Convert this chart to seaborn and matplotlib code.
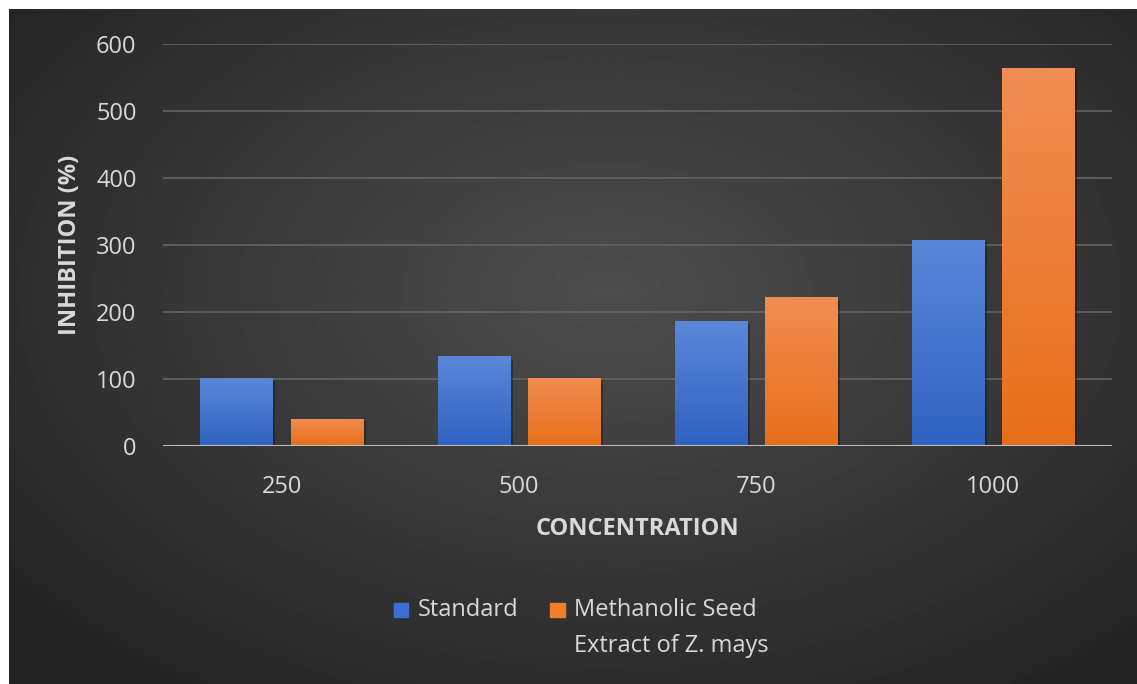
import numpy as np
import pandas as pd
import matplotlib.pyplot as plt
import matplotlib.patches as mpatches
import matplotlib.patheffects as pe
from matplotlib.colors import LinearSegmentedColormap
from matplotlib.legend_handler import HandlerPatch
import seaborn as sns

concentration = ['250', '500', '750', '1000']
standard = [101, 134, 186, 308]
methanolic = [41, 102, 222, 564]
series_names = ['Standard', 'Methanolic Seed\nExtract of Z. mays']
y_ticks = [0, 100, 200, 300, 400, 500, 600]

df = pd.DataFrame({
    'concentration': concentration * 2,
    'inhibition': standard + methanolic,
    'series': [series_names[0]] * len(standard) + [series_names[1]] * len(methanolic),
})

sns.set_theme(style='dark')
plt.rcParams['font.family'] = ['Open Sans', 'DejaVu Sans']

text_color = '#d9d9d9'
blue = '#4472c4'
orange = '#ed7d31'
panel = '#2a2a2a'

fig = plt.figure(figsize=(11.37, 6.84), dpi=100, facecolor=panel)

# white strips on the left and top, as in the screenshot
fig.add_artist(mpatches.Rectangle((0, 0), 9 / 1137, 1, transform=fig.transFigure,
                                  facecolor='white', edgecolor='none', zorder=-1))
fig.add_artist(mpatches.Rectangle((0, 675 / 684), 1, 9 / 684, transform=fig.transFigure,
                                  facecolor='white', edgecolor='none', zorder=-1))

# dark panel with a soft radial light in the middle
bg = fig.add_axes([9 / 1137, 0, 1128 / 1137, 675 / 684], zorder=0)
yy, xx = np.mgrid[0:1:300j, 0:1:500j]
r = np.sqrt(((xx - 0.53) / 0.75) ** 2 + ((yy - 0.42) / 0.8) ** 2)
shade = np.clip(0.305 - 0.18 * r, 0.14, 0.31)
bg.imshow(shade, cmap='gray', vmin=0, vmax=1, aspect='auto', extent=[0, 1, 1, 0],
          interpolation='bilinear')
bg.set_xlim(0, 1)
bg.set_ylim(1, 0)
bg.axis('off')

ax = fig.add_axes([163 / 1137, (684 - 446) / 684, 949 / 1137, 402 / 684], zorder=1)
ax.patch.set_alpha(0)

sns.barplot(
    data=df,
    x='concentration',
    y='inhibition',
    hue='series',
    palette=[blue, orange],
    width=0.76,
    gap=0.2,
    linewidth=0,
    legend=False,
    ax=ax
)

# office-like gradient fill on each bar
grads = [('#5b87d9', '#2f62c1'), ('#f18d52', '#e76f1a')]
for cont, (top, bottom) in zip(ax.containers, grads):
    cmap = LinearSegmentedColormap.from_list('g', [bottom, top])
    for bar in cont:
        x0, y0 = bar.get_x(), bar.get_y()
        w, h = bar.get_width(), bar.get_height()
        bar.set_path_effects([pe.SimplePatchShadow(offset=(2, -2), shadow_rgbFace='black', alpha=0.3), pe.Normal()])
        img = ax.imshow(np.linspace(0, 1, 100).reshape(-1, 1), cmap=cmap, aspect='auto',
                        extent=[x0, x0 + w, y0, y0 + h], origin='lower', zorder=2)
        img.set_clip_path(bar)

ax.set_xlim(-0.5, len(concentration) - 0.5)
ax.set_ylim(0, 600)
ax.set_yticks(y_ticks)
ax.yaxis.grid(True, color='#646464', linewidth=1.2)
ax.set_axisbelow(True)
ax.axhline(0, color='#bfbfbf', linewidth=2.2, zorder=3)
for s in ax.spines.values():
    s.set_visible(False)

ax.tick_params(axis='both', colors=text_color, labelsize=17, length=0)
ax.tick_params(axis='x', pad=21)
ax.tick_params(axis='y', pad=19)

ax.set_xlabel('CONCENTRATION', color=text_color, fontsize=17, fontweight='bold', labelpad=13)
ax.set_ylabel('INHIBITION (%)', color=text_color, fontsize=17, fontweight='bold', labelpad=10)


def square_up(legend, orig_handle, xdescent, ydescent, width, height, fontsize):
    return mpatches.Rectangle((-xdescent + width - height, -ydescent + 0.8 * fontsize), height, height)


handles = [mpatches.Patch(color='#3d6fd3'), mpatches.Patch(color='#f07f2c')]
labels = ['Standard\n ', series_names[1]]
leg = fig.legend(
    handles, labels,
    loc='center',
    bbox_to_anchor=(582 / 1137, 1 - 628 / 684),
    ncol=2,
    frameon=False,
    fontsize=17,
    labelcolor=text_color,
    handlelength=0.55,
    handleheight=0.55,
    handletextpad=0.4,
    columnspacing=1.4,
    labelspacing=0.3,
    handler_map={mpatches.Patch: HandlerPatch(patch_func=square_up)}
)
for t in leg.get_texts():
    t.set_linespacing(1.65)

fig.savefig('out.png', dpi=100, facecolor=panel)
